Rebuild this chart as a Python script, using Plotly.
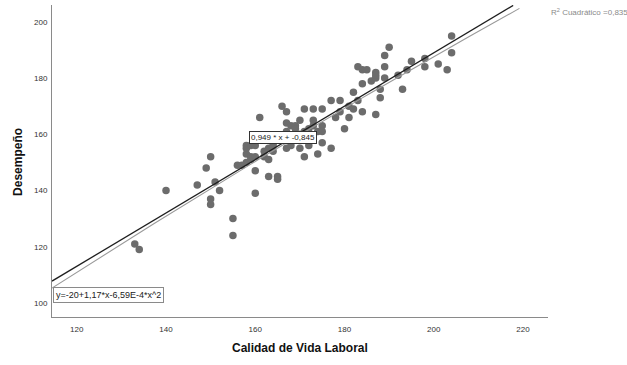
import numpy as np
import plotly.graph_objects as go

# ---- data ----
calidad = [133, 134, 140, 147, 149, 150, 150, 150, 151, 152, 155, 155, 156, 157, 158, 158, 158, 158,
           159, 159, 159, 160, 160, 160, 160, 161, 162, 162, 163, 163, 164, 164, 165, 165, 166, 167,
           167, 167, 167, 168, 168, 169, 169, 170, 170, 171, 171, 172, 172, 173, 173, 173, 174, 174,
           175, 175, 175, 175, 177, 177, 178, 179, 179, 180, 181, 181, 182, 182, 183, 183, 184, 184,
           184, 185, 186, 187, 187, 187, 188, 188, 189, 189, 189, 190, 192, 193, 194, 195, 198, 198,
           201, 203, 204, 204, 187, 166, 168, 170, 171, 164, 163]
desempeno = [121, 119, 140, 142, 148, 152, 137, 135, 143, 140, 130, 124, 149, 149, 150, 153, 155, 156,
             156, 152, 151, 152, 156, 147, 139, 166, 154, 152, 151, 145, 154, 157, 145, 144, 170, 168,
             164, 161, 155, 156, 163, 163, 162, 165, 155, 169, 152, 162, 156, 169, 165, 163, 161, 153,
             169, 163, 161, 157, 172, 155, 166, 172, 168, 162, 166, 170, 169, 175, 172, 184, 178, 183,
             168, 183, 179, 182, 180, 167, 176, 173, 188, 184, 180, 191, 181, 176, 183, 186, 187, 184,
             185, 183, 195, 189, 181, 159, 158, 160, 161, 156, 155]

lin_coef = [0.949, -0.845]            # slope, intercept
quad_coef = [-20, 1.17, -6.59e-4]     # a + b*x + c*x^2
lin_range = [114.45, 217.8]
quad_range = [114.45, 219.2]

x_ticks = [120, 140, 160, 180, 200, 220]
y_ticks = [100, 120, 140, 160, 180, 200]

lin_label = "0,949 * x + -0,845"
quad_label = "y=-20+1,17*x-6,59E-4*x^2"
r2_label = "R<sup>2</sup> Cuadrático =0,835"
x_title = "Calidad de Vida Laboral"
y_title = "Desempeño"

FONT = "Arial, Liberation Sans, sans-serif"

fig = go.Figure()

fig.add_trace(go.Scatter(
    x=calidad, y=desempeno, mode="markers",
    marker=dict(size=7.5, color="#6c6c6c", line=dict(width=0)),
    showlegend=False, hoverinfo="x+y"))

xl = np.array(lin_range)
fig.add_trace(go.Scatter(
    x=xl, y=lin_coef[0] * xl + lin_coef[1], mode="lines",
    line=dict(color="#1e1e1e", width=1.3), showlegend=False))

xq = np.linspace(quad_range[0], quad_range[1], 60)
fig.add_trace(go.Scatter(
    x=xq, y=quad_coef[0] + quad_coef[1] * xq + quad_coef[2] * xq ** 2, mode="lines",
    line=dict(color="#9a9a9a", width=1.1), showlegend=False))

fig.update_layout(
    width=627, height=365,
    margin=dict(l=52, r=79, t=5, b=48),
    paper_bgcolor="white", plot_bgcolor="white",
    font=dict(family=FONT, size=8, color="#333333"),
    xaxis=dict(range=[114.45, 225.6], tickvals=x_ticks, showgrid=False, zeroline=False,
               showline=True, linecolor="#8a8a8a", linewidth=1,
               ticks="outside", ticklen=4, tickcolor="rgba(0,0,0,0)",
               tickfont=dict(size=8, color="#333333")),
    yaxis=dict(range=[95, 206], tickvals=y_ticks, showgrid=False, zeroline=False,
               showline=True, linecolor="#8a8a8a", linewidth=1,
               ticks="outside", ticklen=2, tickcolor="rgba(0,0,0,0)",
               tickfont=dict(size=8, color="#333333")),
    annotations=[
        dict(text=x_title, xref="paper", yref="paper", x=0.50, y=-0.099,
             xanchor="center", yanchor="middle", showarrow=False,
             font=dict(size=12, color="#111111", family=FONT, weight="bold")),
        dict(text=y_title, xref="paper", yref="paper", x=-0.0685, y=0.497,
             xanchor="center", yanchor="middle", showarrow=False, textangle=-90,
             font=dict(size=12, color="#111111", family=FONT, weight="bold")),
        dict(text=r2_label, xref="paper", yref="paper", x=1.002, y=0.977,
             xanchor="left", yanchor="middle", showarrow=False,
             font=dict(size=8, color="#8a8a8a", family=FONT)),
        dict(text=quad_label, xref="paper", yref="paper", x=0.003, y=0.072,
             xanchor="left", yanchor="middle", showarrow=False,
             bgcolor="white", bordercolor="#8a8a8a", borderwidth=1, borderpad=2,
             font=dict(size=9, color="#222222", family=FONT)),
        dict(text=lin_label, x=166.2, y=158.9, xref="x", yref="y",
             xanchor="center", yanchor="middle", showarrow=False,
             bgcolor="white", bordercolor="#333333", borderwidth=1, borderpad=1,
             font=dict(size=8, color="#222222", family=FONT)),
    ],
)

fig.write_html("out.html",
               config={"displayModeBar": False},
               post_script="document.body.style.margin='0px';document.body.style.overflow='hidden';")
